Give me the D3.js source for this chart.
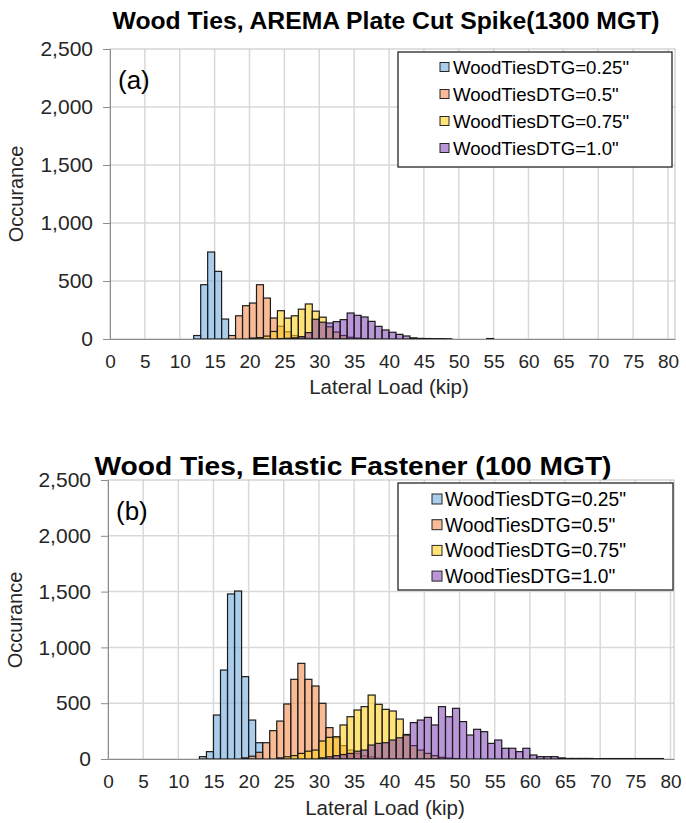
<!DOCTYPE html>
<html><head><meta charset="utf-8">
<script src="https://cdn.jsdelivr.net/npm/d3@7"></script>
<style>
body{margin:0;background:#fff}
svg{display:block}
text{font-family:"Liberation Sans",Arial,Helvetica,sans-serif}
</style>
</head><body>
<svg id="chart" width="686" height="823"></svg>
<script>
// ---------- data ----------
const loadBins = [0,1,2,3,4,5,6,7,8,9,10,11,12,13,14,15,16,17,18,19,20,21,22,23,24,25,26,27,28,29,30,31,32,33,34,35,36,37,38,39,40,41,42,43,44,45,46,47,48,49,50,51,52,53,54,55,56,57,58,59,60,61,62,63,64,65,66,67,68,69,70,71,72,73,74,75,76,77,78,79,80];
const seriesNames = ['WoodTiesDTG=0.25"','WoodTiesDTG=0.5"','WoodTiesDTG=0.75"','WoodTiesDTG=1.0"'];
const yTicks = [0,500,1000,1500,2000,2500];
const xTicks = [0,5,10,15,20,25,30,35,40,45,50,55,60,65,70,75,80];

// Panel (a): first bin of each series and its occurrences per 1-kip bin
const aTitle = "Wood Ties, AREMA Plate Cut Spike(1300 MGT)";
const aStartBins = [12, 17, 20, 24];
const aDTG025 = [30, 468, 750, 583, 172];
const aDTG050 = [30, 200, 287, 310, 468, 353, 181, 110, 62, 30, 15, 8, 4];
const aDTG075 = [8, 12, 25, 65, 244, 180, 200, 257, 302, 240, 188, 105, 60, 30, 15, 8, 4];
const aDTG100 = [3, 6, 10, 20, 55, 170, 145, 138, 150, 167, 224, 204, 190, 152, 109, 78, 58, 40, 26, 10, 5, 4, 3, 3, 2, 0, 0, 0, 0, 0, 4];

// Panel (b)
const bTitle = "Wood Ties, Elastic Fastener (100 MGT)";
const bStartBins = [13, 19, 24, 30];
const bDTG025 = [21, 66, 394, 797, 1479, 1505, 738, 349, 146];
const bDTG050 = [10, 25, 60, 146, 254, 340, 493, 714, 857, 714, 654, 499, 281, 190, 120, 80, 50, 30, 20, 10, 5];
const bDTG075 = [10, 20, 30, 50, 70, 80, 161, 194, 200, 305, 379, 439, 469, 573, 490, 445, 430, 358, 220, 120, 80, 50, 30, 15, 8, 4];
const bDTG100 = [10, 20, 30, 40, 50, 70, 80, 125, 140, 146, 170, 190, 215, 326, 349, 373, 305, 469, 379, 454, 335, 215, 266, 245, 140, 170, 96, 96, 66, 96, 36, 21, 21, 21, 10, 5, 5, 5, 5, 3, 4, 4, 4, 4, 4, 4, 4, 4, 4];

// ---------- style ----------
const fills = ["#71ACDE", "#F38E50", "#FFCE1E", "#7330AF"];
const alphas = [0.6, 0.6, 0.6, 0.5];

const svg = d3.select("#chart");

function expand(start, vals) {
  return loadBins.map(k => (k >= start && k < start + vals.length) ? vals[k - start] : 0);
}

function drawPanel(cfg) {
  const g = svg.append("g");
  const x = d3.scaleLinear().domain([0, cfg.xMax]).range([cfg.left, cfg.right]);
  const y = d3.scaleLinear().domain([0, 2500]).range([cfg.bottom, cfg.top]);

  // title
  g.append("text").attr("x", cfg.titleX).attr("y", cfg.titleY)
    .attr("text-anchor", "middle").attr("font-weight", "bold")
    .attr("font-size", cfg.titleSize).attr("fill", "#000")
    .attr("textLength", cfg.titleLen).attr("lengthAdjust", "spacingAndGlyphs")
    .text(cfg.title);

  // gridlines
  g.append("g").selectAll("line").data(yTicks.filter(t => t > 0 && t < 2500)).join("line")
    .attr("x1", cfg.left).attr("x2", cfg.right)
    .attr("y1", d => y(d)).attr("y2", d => y(d))
    .attr("stroke", "#d9d9d9").attr("stroke-width", 1.5);
  g.append("g").selectAll("line").data(xTicks.filter(t => t > 0 && t < cfg.xMax)).join("line")
    .attr("y1", cfg.top).attr("y2", cfg.bottom)
    .attr("x1", d => x(d)).attr("x2", d => x(d))
    .attr("stroke", "#d9d9d9").attr("stroke-width", 1.5);

  // border
  g.append("rect").attr("x", cfg.left).attr("y", cfg.top)
    .attr("width", cfg.right - cfg.left).attr("height", cfg.bottom - cfg.top)
    .attr("fill", "none").attr("stroke", "#bfbfbf").attr("stroke-width", 1);

  // bars
  cfg.series.forEach((vals, i) => {
    const full = expand(cfg.starts[i], vals);
    const data = loadBins.map((k, j) => ({k, v: full[j]})).filter(d => d.v > 0);
    g.append("g").selectAll("rect").data(data).join("rect")
      .attr("x", d => x(d.k)).attr("width", d => x(d.k + 1) - x(d.k))
      .attr("y", d => y(d.v)).attr("height", d => y(0) - y(d.v))
      .attr("fill", fills[i]).attr("fill-opacity", alphas[i])
      .attr("stroke", "#1c1c1c").attr("stroke-width", 1.2);
  });

  // axes
  const ya = g.append("g").attr("transform", `translate(${cfg.left},0)`)
    .call(d3.axisLeft(y).tickValues(yTicks).tickFormat(d3.format(",")).tickSize(7).tickPadding(10));
  ya.select(".domain").attr("stroke", "#8c8c8c");
  ya.selectAll(".tick line").attr("stroke", "#8c8c8c");
  ya.selectAll("text").attr("font-size", 21).attr("fill", "#262626")
    .attr("font-family", '"Liberation Sans",Arial,sans-serif');

  const xa = g.append("g").attr("transform", `translate(0,${cfg.bottom})`)
    .call(d3.axisBottom(x).tickValues(xTicks).tickFormat(d3.format("d")).tickSize(0).tickPadding(16));
  xa.select(".domain").attr("stroke", "#8c8c8c");
  xa.selectAll("text").attr("font-size", 19).attr("fill", "#262626")
    .attr("font-family", '"Liberation Sans",Arial,sans-serif');

  // axis titles
  g.append("text").attr("x", cfg.xTitleX).attr("y", cfg.xTitleY).attr("text-anchor", "middle")
    .attr("font-size", 20.5).attr("fill", "#262626").text("Lateral Load (kip)");
  g.append("text").attr("transform", `translate(${cfg.yTitleX},${cfg.yTitleY}) rotate(-90)`)
    .attr("text-anchor", "middle").attr("font-size", 20).attr("fill", "#262626").text("Occurance");

  // panel tag
  g.append("text").attr("x", cfg.left + 8).attr("y", cfg.tagY)
    .attr("font-size", 26).attr("fill", "#000").text(cfg.tag);

  // legend
  const L = cfg.legend;
  g.append("rect").attr("x", L.x).attr("y", L.y).attr("width", L.w).attr("height", L.h)
    .attr("fill", "#fff").attr("stroke", "#262626").attr("stroke-width", 1.3);
  const items = g.append("g").selectAll("g").data(seriesNames).join("g")
    .attr("transform", (d, i) => `translate(0,${L.row0 + i * L.dy})`);
  items.append("rect").attr("x", L.mx).attr("y", -L.ms / 2).attr("width", L.ms).attr("height", L.ms)
    .attr("fill", (d, i) => fills[i]).attr("fill-opacity", (d, i) => alphas[i])
    .attr("stroke", "#262626").attr("stroke-width", 1);
  items.append("text").attr("x", L.tx).attr("y", 0).attr("dy", "0.36em")
    .attr("font-size", L.fs).attr("fill", "#000")
    .attr("textLength", (d) => L.tl * d.length / 17).attr("lengthAdjust", "spacingAndGlyphs")
    .text(d => d);
}

drawPanel({
  title: aTitle, titleX: 386, titleY: 29, titleSize: 24, titleLen: 547,
  left: 110, right: 675, top: 49, bottom: 339, xMax: 81,
  starts: aStartBins, series: [aDTG025, aDTG050, aDTG075, aDTG100],
  xTitleX: 389, xTitleY: 394, yTitleX: 23, yTitleY: 194,
  tag: "(a)", tagY: 89,
  legend: {x: 398, y: 52, w: 274, h: 115, row0: 67, dy: 27, mx: 440, ms: 9, tx: 453, fs: 18.5, tl: 176}
});

drawPanel({
  title: bTitle, titleX: 353, titleY: 475, titleSize: 25, titleLen: 517,
  left: 108, right: 674, top: 480, bottom: 759, xMax: 80.5,
  starts: bStartBins, series: [bDTG025, bDTG050, bDTG075, bDTG100],
  xTitleX: 385, xTitleY: 815, yTitleX: 22, yTitleY: 620,
  tag: "(b)", tagY: 520,
  legend: {x: 398, y: 483, w: 275, h: 107, row0: 499, dy: 25.7, mx: 432, ms: 10, tx: 445, fs: 19.5, tl: 181}
});
</script>
</body></html>
